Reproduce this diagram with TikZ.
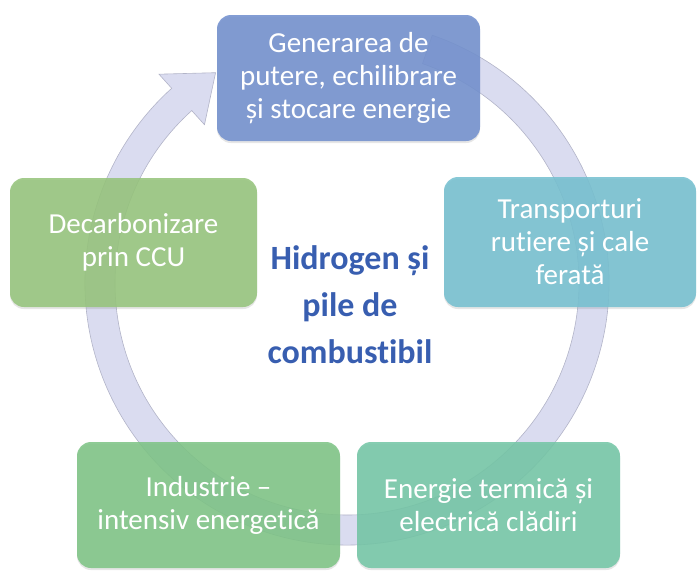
\documentclass[tikz,border=0pt]{standalone}
\usepackage{fontspec}
\setmainfont{Carlito}[Ligatures=NoCommon]
\usepackage{tikz}
\usetikzlibrary{positioning,shapes,arrows,shadows}

\definecolor{genblue}{RGB}{114,144,206}
\definecolor{transteal}{RGB}{118,192,208}
\definecolor{decgreen}{RGB}{150,196,124}
\definecolor{indgreen}{RGB}{126,196,134}
\definecolor{enmint}{RGB}{116,198,166}
\definecolor{ringfill}{RGB}{218,220,240}
\definecolor{ringedge}{RGB}{178,180,200}
\definecolor{hubblue}{RGB}{56,94,176}

\begin{document}
\begin{tikzpicture}[
    x=1pt, y=1pt,
    block/.style={
        rectangle,
        rounded corners=14pt,
        minimum width=263pt,
        minimum height=126pt,
        align=center,
        text=white,
        font=\fontsize{29}{33}\selectfont,
        fill opacity=0.88,
        text opacity=1,
        drop shadow={shadow xshift=0pt, shadow yshift=-2pt, opacity=0.2}
    },
    hub/.style={
        align=center,
        text=hubblue,
        font=\fontsize{34}{47}\selectfont\bfseries
    },
    ring/.style={fill=ringfill, draw=ringedge, line width=0.6pt}
]
    \useasboundingbox (0,0) rectangle (697,-571);

    % Cycle arrow
    \begin{scope}[shift={(347,-283)}]
        \draw[ring] (71:262pt) arc[start angle=71, end angle=-228, radius=262pt]
            -- (-228:281pt) -- (-238:248pt) -- (-228:213pt) -- (-228:232pt)
            arc[start angle=-228, end angle=71, radius=232pt] -- cycle;
    \end{scope}

    % Centre
    \node[hub] (hub) at (350,-305) {Hidrogen și\\pile de\\combustibil};

    % Sectors
    \node[block, fill=genblue] (gen) at (348.5,-78)
        {Generarea de\\putere, echilibrare\\și stocare energie};
    \node[block, fill=transteal, minimum width=252pt, minimum height=130pt] (trans) at (570,-242)
        {Transporturi\\rutiere și cale\\ferată};
    \node[block, fill=decgreen, minimum width=247pt, minimum height=129pt] (decarb) at (133.5,-242.5)
        {Decarbonizare\\prin CCU};
    \node[block, fill=indgreen] (ind) at (208.5,-505)
        {Industrie –\\intensiv energetică};
    \node[block, fill=enmint] (ener) at (488.5,-505)
        {Energie termică și\\electrică clădiri};
\end{tikzpicture}
\end{document}
